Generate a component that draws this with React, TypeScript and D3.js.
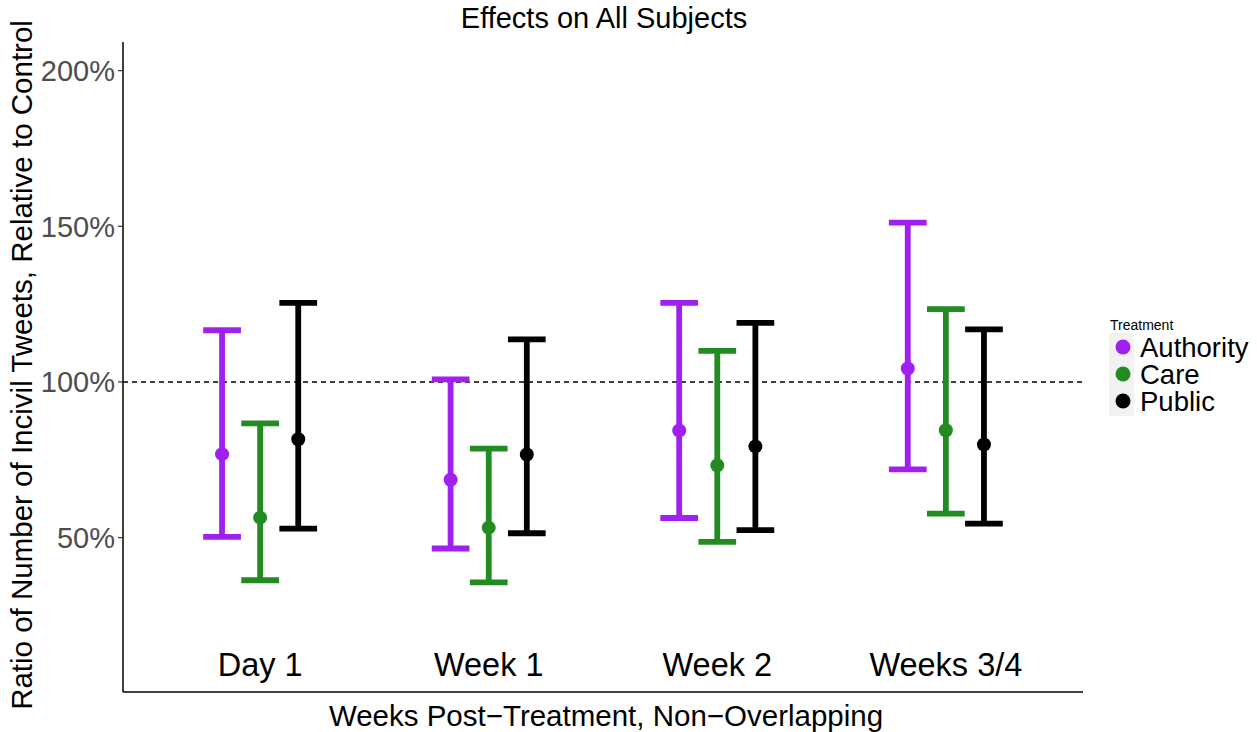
import React, { useEffect, useRef } from "react";
import * as d3 from "d3";

const weeks = ["Day 1", "Week 1", "Week 2", "Weeks 3/4"];
const treatments = ["Authority", "Care", "Public"];
const colors = ["#A020F0", "#228B22", "#000000"];

// ratio (%) per week for each treatment
const estimate = {
  Authority: [76.8, 68.6, 84.4, 104.3],
  Care: [56.4, 53.2, 73.2, 84.5],
  Public: [81.6, 76.7, 79.3, 79.9],
};
const lower = {
  Authority: [50.2, 46.5, 56.3, 71.9],
  Care: [36.3, 35.6, 48.6, 57.7],
  Public: [52.9, 51.4, 52.4, 54.5],
};
const upper = {
  Authority: [116.6, 100.8, 125.4, 151.2],
  Care: [86.7, 78.6, 110.0, 123.4],
  Public: [125.4, 113.7, 119.0, 116.9],
};
const yTicks = [50, 100, 150, 200];

export default function App() {
  const svgRef = useRef(null);

  useEffect(() => {
    const svg = d3.select(svgRef.current);
    svg.selectAll("*").remove();

    const width = 1257, height = 732;
    const left = 123, right = 1083, top = 42, bottom = 692;
    const font = "'Liberation Sans', Arial, sans-serif";

    svg.attr("width", width).attr("height", height).style("font-family", font);
    svg.append("rect").attr("width", width).attr("height", height).attr("fill", "#fff");

    const x = d3.scaleLinear().domain([0.4, 4.6]).range([left, right]);
    const y = d3.scaleLinear().domain([0.4, 209.2]).range([bottom, top]);
    const dodge = 1 / 6;
    const capHalf = 0.0825;

    // reference line
    svg.append("line")
      .attr("x1", left).attr("x2", right)
      .attr("y1", y(100)).attr("y2", y(100))
      .attr("stroke", "#000").attr("stroke-width", 1.5)
      .attr("stroke-dasharray", "5,4");

    treatments.forEach((t, ti) => {
      const g = svg.append("g");
      const col = colors[ti];
      weeks.forEach((w, wi) => {
        const cx = wi + 1 + (ti - 1) * dodge;
        g.append("line")
          .attr("x1", x(cx)).attr("x2", x(cx))
          .attr("y1", y(lower[t][wi])).attr("y2", y(upper[t][wi]))
          .attr("stroke", col).attr("stroke-width", 5.8);
        [lower[t][wi], upper[t][wi]].forEach(v => {
          g.append("line")
            .attr("x1", x(cx - capHalf)).attr("x2", x(cx + capHalf))
            .attr("y1", y(v)).attr("y2", y(v))
            .attr("stroke", col).attr("stroke-width", 5.8);
        });
        g.append("circle")
          .attr("cx", x(cx)).attr("cy", y(estimate[t][wi]))
          .attr("r", 7).attr("fill", col);
      });
    });

    // category labels inside plot
    weeks.forEach((w, wi) => {
      svg.append("text")
        .attr("x", x(wi + 1)).attr("y", y(9.4))
        .attr("dy", "0.36em")
        .attr("text-anchor", "middle")
        .style("font-size", "32.5px")
        .text(w);
    });

    // y axis
    svg.append("line")
      .attr("x1", left).attr("x2", left).attr("y1", top).attr("y2", bottom)
      .attr("stroke", "#000").attr("stroke-width", 1.5);
    yTicks.forEach(v => {
      svg.append("line")
        .attr("x1", left - 5).attr("x2", left).attr("y1", y(v)).attr("y2", y(v))
        .attr("stroke", "#333").attr("stroke-width", 1.2);
      svg.append("text")
        .attr("x", left - 8).attr("y", y(v)).attr("dy", "0.36em")
        .attr("text-anchor", "end")
        .attr("fill", "#4D4D4D")
        .style("font-size", "29px")
        .text(v + "%");
    });

    // x axis
    svg.append("line")
      .attr("x1", left).attr("x2", right).attr("y1", bottom).attr("y2", bottom)
      .attr("stroke", "#000").attr("stroke-width", 1.5);

    // titles
    svg.append("text")
      .attr("x", 604).attr("y", 28)
      .attr("text-anchor", "middle")
      .style("font-size", "29px")
      .text("Effects on All Subjects");
    svg.append("text")
      .attr("x", 606).attr("y", 726)
      .attr("text-anchor", "middle")
      .style("font-size", "29.5px")
      .text("Weeks Post\u2212Treatment, Non\u2212Overlapping");
    svg.append("text")
      .attr("transform", `translate(32, 365) rotate(-90)`)
      .attr("text-anchor", "middle")
      .style("font-size", "29.5px")
      .text("Ratio of Number of Incivil Tweets, Relative to Control");

    // legend
    const lg = svg.append("g");
    lg.append("text").attr("x", 1110).attr("y", 330).style("font-size", "14px").text("Treatment");
    lg.append("rect").attr("x", 1109).attr("y", 333).attr("width", 25).attr("height", 83).attr("fill", "#F2F2F2");
    treatments.forEach((t, ti) => {
      const ly = 347 + ti * 27;
      lg.append("circle").attr("cx", 1123).attr("cy", ly).attr("r", 7.5).attr("fill", colors[ti]);
      lg.append("text").attr("x", 1140).attr("y", ly).attr("dy", "0.36em")
        .style("font-size", "27.5px").text(t);
    });
  }, []);

  return <svg ref={svgRef} style={{ display: "block", position: "absolute", left: 0, top: 0 }}></svg>;
}
